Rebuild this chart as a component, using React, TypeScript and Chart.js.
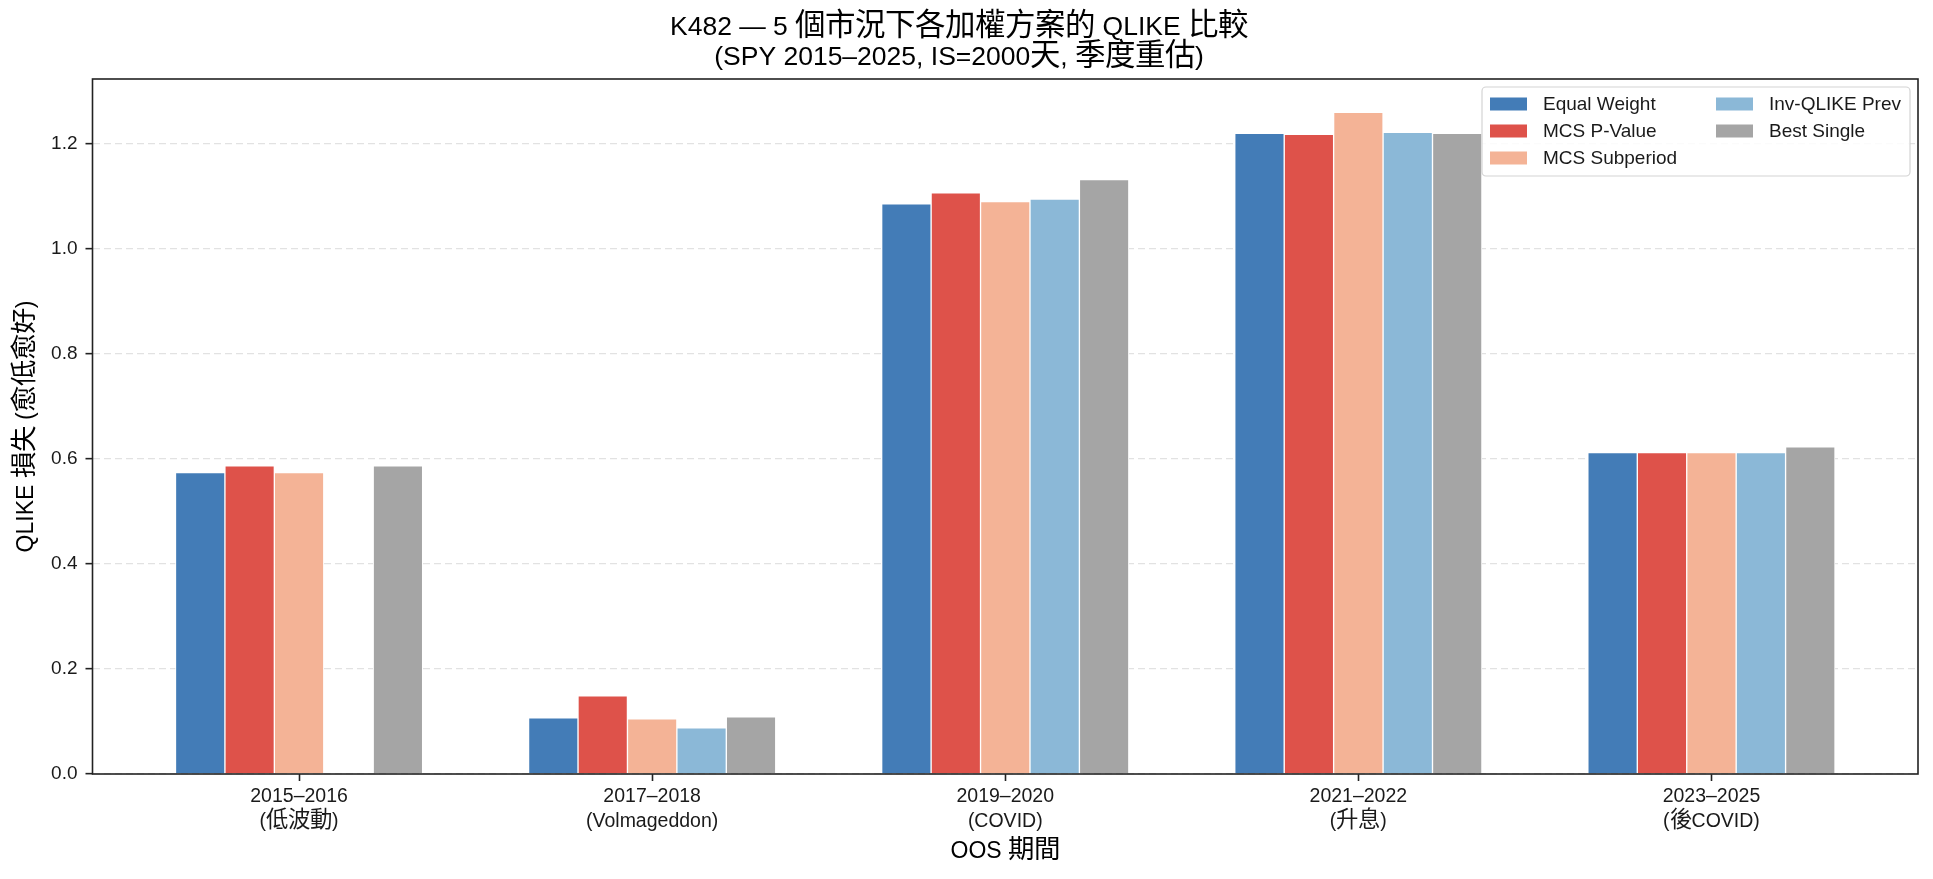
import React, { useEffect, useRef } from 'react';
import { Chart, registerables } from 'chart.js';

Chart.register(...registerables);

// ---------- data ----------
const periods = ['2015–2016', '2017–2018', '2019–2020', '2021–2022', '2023–2025'];
const regimes = ['(低波動)', '(Volmageddon)', '(COVID)', '(升息)', '(後COVID)'];
const seriesNames = ['Equal Weight', 'MCS P-Value', 'MCS Subperiod', 'Inv-QLIKE Prev', 'Best Single'];
const equalWeight = [0.574, 0.107, 1.086, 1.22, 0.612];
const mcsPValue = [0.587, 0.149, 1.107, 1.218, 0.612];
const mcsSubperiod = [0.574, 0.105, 1.09, 1.26, 0.612];
const invQlikePrev: (number | null)[] = [null, 0.088, 1.095, 1.222, 0.612];
const bestSingle = [0.587, 0.109, 1.132, 1.22, 0.623];
const seriesColors = ['#437cb7', '#de524a', '#f4b396', '#8bb8d7', '#a5a5a5'];
const yTicks = [0, 0.2, 0.4, 0.6, 0.8, 1.0, 1.2];

const allSeries = [equalWeight, mcsPValue, mcsSubperiod, invQlikePrev, bestSingle];

// ---------- layout constants ----------
const W = 1933;
const H = 879;
const FONT = '"Liberation Sans", "CJKWide", "Noto Sans CJK TC", sans-serif';
const BAR_WIDTH = 0.14;
const X_MIN = -0.585;
const X_MAX = 4.585;
const Y_MAX = 1.3236;
const AREA_LEFT = 92.5;
const AREA_RIGHT_PAD = 15;
const AREA_BOTTOM_H = 105;
const BAR_PX = (BAR_WIDTH * (W - AREA_LEFT - AREA_RIGHT_PAD)) / (X_MAX - X_MIN);

const FONT_CSS = `@font-face {
  font-family: "CJKWide";
  src: local("Noto Sans CJK TC"), local("Noto Sans CJK TC Regular"), local("NotoSansCJKtc-Regular");
  size-adjust: 115%;
  unicode-range: U+2E80-9FFF, U+F900-FAFF, U+FF00-FFEF;
}`;

const framePlugin = {
  id: 'frame',
  afterDatasetsDraw(chart: any) {
    const { ctx, chartArea: a } = chart;
    ctx.save();
    ctx.setLineDash([]);
    ctx.strokeStyle = '#222';
    ctx.lineWidth = 1.6;
    ctx.strokeRect(a.left, a.top, a.right - a.left, a.bottom - a.top);
    ctx.restore();
  },
};

const legendPlugin = {
  id: 'columnLegend',
  afterDraw(chart: any) {
    const { ctx, chartArea } = chart;
    const boxW = 428;
    const boxH = 89;
    const right = chartArea.right - 8;
    const top = chartArea.top + 8;
    const left = right - boxW;
    ctx.save();
    ctx.setLineDash([]);
    ctx.beginPath();
    ctx.roundRect(left, top, boxW, boxH, 4);
    ctx.fillStyle = 'rgba(255,255,255,0.85)';
    ctx.fill();
    ctx.strokeStyle = '#d4d4d4';
    ctx.lineWidth = 1.2;
    ctx.stroke();
    ctx.font = `19px ${FONT}`;
    ctx.textBaseline = 'middle';
    ctx.textAlign = 'left';
    chart.data.datasets.forEach((ds: any, k: number) => {
      const col = Math.floor(k / 3);
      const row = k % 3;
      const sx = left + 8 + col * 226;
      const cy = top + 17 + row * 27;
      ctx.fillStyle = ds.backgroundColor;
      ctx.fillRect(sx, cy - 6.5, 37, 13);
      ctx.fillStyle = '#1a1a1a';
      ctx.fillText(ds.label, sx + 53, cy + 1);
    });
    ctx.restore();
  },
};

export default function App() {
  const ref = useRef<HTMLCanvasElement>(null);

  useEffect(() => {
    document.body.style.margin = '0';
    const style = document.createElement('style');
    style.textContent = FONT_CSS;
    document.head.appendChild(style);
    Chart.defaults.font.family = FONT;

    const datasets = allSeries.map((vals, j) => ({
      label: seriesNames[j],
      data: vals.map((v, i) => ({ x: i + (j - 2) * BAR_WIDTH, y: v })),
      backgroundColor: seriesColors[j],
      borderColor: '#ffffff',
      borderWidth: 1,
      barThickness: BAR_PX,
      grouped: false,
    }));

    const chart = new Chart(ref.current as HTMLCanvasElement, {
      type: 'bar',
      data: { datasets: datasets as any },
      plugins: [framePlugin, legendPlugin],
      options: {
        responsive: false,
        animation: false,
        devicePixelRatio: 1,
        layout: { padding: { left: 0, right: AREA_RIGHT_PAD, top: 0, bottom: 0 } },
        plugins: {
          legend: { display: false },
          tooltip: { enabled: false },
          title: {
            display: true,
            text: ['K482 — 5 個市況下各加權方案的 QLIKE 比較', '(SPY 2015–2025, IS=2000天, 季度重估)'],
            color: '#000',
            font: { size: 26.5, weight: 'normal', lineHeight: 30 / 26.5 },
            padding: { top: 13, bottom: 6 },
          },
        },
        scales: {
          x: {
            type: 'linear',
            min: X_MIN,
            max: X_MAX,
            offset: false,
            afterBuildTicks: (scale: any) => {
              scale.ticks = periods.map((_, i) => ({ value: i }));
            },
            afterFit: (scale: any) => {
              scale.height = AREA_BOTTOM_H;
            },
            ticks: {
              autoSkip: false,
              maxRotation: 0,
              minRotation: 0,
              padding: 3,
              color: '#1a1a1a',
              font: { size: 19.5, lineHeight: 25 / 19.5 },
              callback: (value: any) => {
                const i = Math.round(Number(value));
                return [periods[i], regimes[i]];
              },
            },
            grid: {
              offset: false,
              drawOnChartArea: false,
              drawTicks: true,
              tickLength: 7,
              tickColor: '#222',
              tickWidth: 1.6,
            },
            border: { display: false },
            title: {
              display: true,
              text: 'OOS 期間',
              color: '#000',
              font: { size: 23, lineHeight: 1.2 },
              padding: { top: 0, bottom: 14 },
            },
          },
          y: {
            type: 'linear',
            min: 0,
            max: Y_MAX,
            afterBuildTicks: (scale: any) => {
              scale.ticks = yTicks.map((v) => ({ value: v }));
            },
            afterFit: (scale: any) => {
              scale.width = AREA_LEFT;
            },
            ticks: {
              padding: 8,
              color: '#1a1a1a',
              font: { size: 19, lineHeight: 1.2 },
              callback: (value: any) => Number(value).toFixed(1),
            },
            grid: {
              color: '#e2e2e2',
              lineWidth: 1.3,
              drawTicks: true,
              tickLength: 7,
              tickColor: '#222',
              tickWidth: 1.6,
              tickBorderDash: [],
            },
            border: { display: false, dash: [7, 4] },
            title: {
              display: true,
              text: 'QLIKE 損失 (愈低愈好)',
              color: '#000',
              font: { size: 23, lineHeight: 1.2 },
              padding: { top: 13, bottom: 0 },
            },
          },
        },
      } as any,
    });

    let alive = true;
    const fontsApi: any = (document as any).fonts;
    if (fontsApi && fontsApi.load) {
      fontsApi
        .load('24px "CJKWide"', '損失期間')
        .then(() => {
          if (alive) chart.update();
        })
        .catch(() => {});
    }
    return () => {
      alive = false;
      chart.destroy();
      style.remove();
    };
  }, []);

  return (
    <div style={{ position: 'fixed', left: 0, top: 0, width: W, height: H, background: '#fff' }}>
      <canvas ref={ref} width={W} height={H} style={{ display: 'block' }} />
    </div>
  );
}
